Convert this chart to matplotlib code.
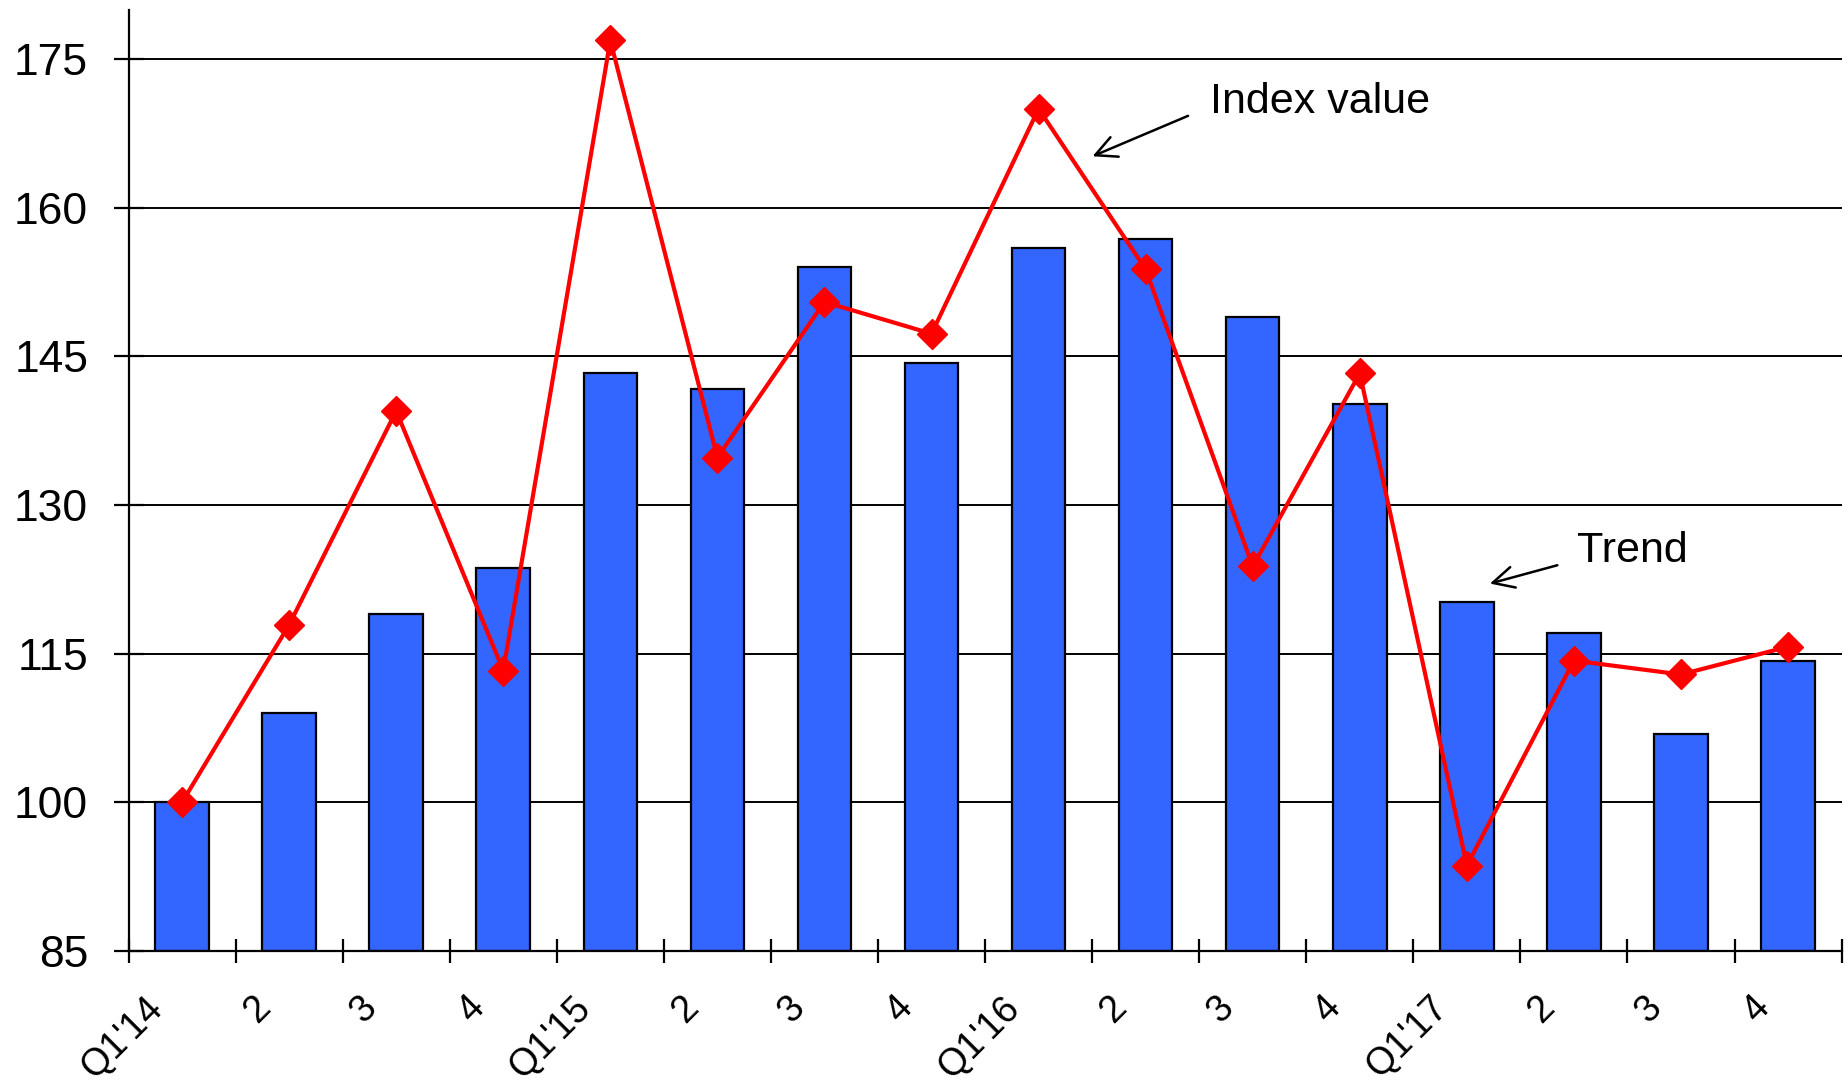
import matplotlib
matplotlib.use("Agg")
import matplotlib.pyplot as plt
import matplotlib.transforms as mtransforms
import numpy as np

quarters = ["Q1'14", "2", "3", "4", "Q1'15", "2", "3", "4",
            "Q1'16", "2", "3", "4", "Q1'17", "2", "3", "4"]
trend = [100.0, 109.0, 119.0, 123.6, 143.3, 141.7, 154.0, 144.3,
         156.0, 156.9, 149.0, 140.2, 120.2, 117.1, 106.9, 114.3]
index_value = [100.0, 117.9, 139.5, 113.3, 176.9, 134.8, 150.5, 147.3,
               170.0, 153.8, 123.8, 143.3, 93.6, 114.3, 112.9, 115.7]
y_ticks = [85, 100, 115, 130, 145, 160, 175]

plt.rcParams['font.family'] = ['Liberation Sans', 'DejaVu Sans']

fig = plt.figure(figsize=(18.49, 10.83), dpi=100)
ax = fig.add_axes([0.0695, 0.122, 0.9265, 0.869])

x = np.arange(len(quarters))

ax.bar(x, np.array(trend) - 85, bottom=85, width=0.5, color="#3366ff",
       edgecolor="black", linewidth=1.6, zorder=2)
ax.plot(x, index_value, color="red", linewidth=3.0, marker="D",
        markersize=15, zorder=3)

ax.set_xlim(-0.5, len(quarters) - 0.5)
ax.set_ylim(85, 180)
ax.set_yticks(y_ticks)
ax.yaxis.grid(True, color="black", linewidth=1.4, zorder=0)
ax.set_axisbelow(True)

for side in ["top", "right"]:
    ax.spines[side].set_visible(False)
for side in ["left", "bottom"]:
    ax.spines[side].set_linewidth(1.6)

# ticks between bars, labels under the bars
ax.set_xticks(np.arange(-0.5, len(quarters), 1.0))
ax.set_xticklabels([])
ax.set_xticks(x, minor=True)
ax.set_xticklabels(quarters, minor=True, rotation=45, ha="right", va="top")
ax.tick_params(axis="x", which="major", direction="inout", length=17, width=1.6)
ax.tick_params(axis="x", which="minor", length=0, pad=28, labelsize=27)
ax.tick_params(axis="y", direction="inout", length=22, width=1.6, pad=18, labelsize=32)

shift = mtransforms.ScaledTranslation(-12 / 100, 0, fig.dpi_scale_trans)
for lab in ax.get_xticklabels(minor=True):
    lab.set_transform(lab.get_transform() + shift)

ax.text(9.6, 170.7, "Index value", fontsize=31, va="center", ha="left")
ax.annotate("", xy=(8.48, 165.1), xytext=(9.42, 169.4),
            arrowprops=dict(arrowstyle="->", lw=1.8, mutation_scale=38, color="black"))
ax.text(13.03, 125.4, "Trend", fontsize=31, va="center", ha="left")
ax.annotate("", xy=(12.19, 122.0), xytext=(12.87, 124.0),
            arrowprops=dict(arrowstyle="->", lw=1.8, mutation_scale=38, color="black"))

fig.savefig("out.png", dpi=100)
